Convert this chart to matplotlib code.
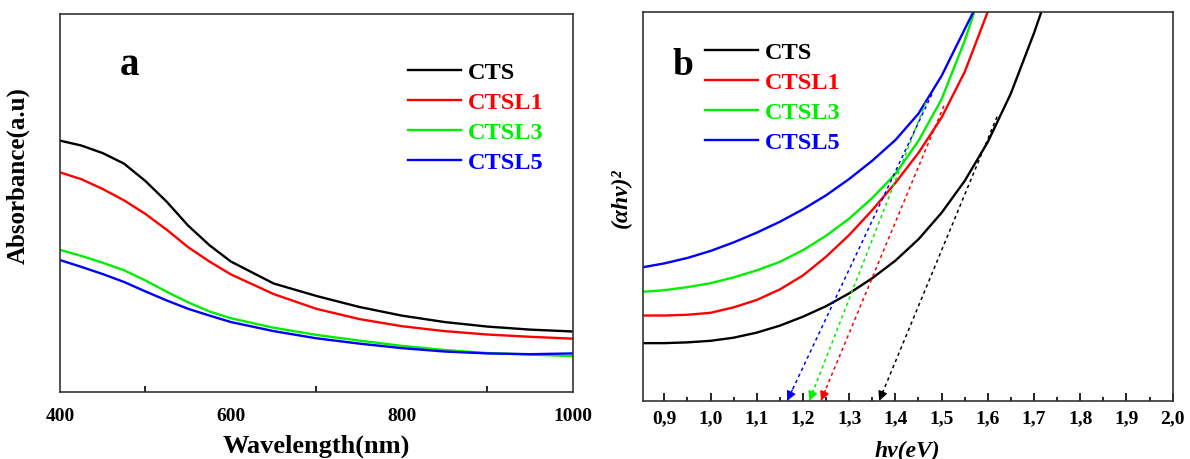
import matplotlib
matplotlib.use("Agg")
from matplotlib import pyplot as plt
from matplotlib.ticker import MultipleLocator, FuncFormatter

# panel a: absorbance spectra (arbitrary units)
wavelength = [400, 425, 450, 475, 500, 525, 550, 575, 600, 650, 700, 750, 800, 850, 900, 950, 1000]
abs_cts = [0.665, 0.652, 0.632, 0.604, 0.558, 0.503, 0.440, 0.388, 0.345, 0.287, 0.254, 0.225, 0.202, 0.185, 0.173, 0.165, 0.160]
abs_ctsl1 = [0.581, 0.563, 0.537, 0.507, 0.471, 0.429, 0.383, 0.345, 0.311, 0.259, 0.220, 0.193, 0.174, 0.161, 0.152, 0.146, 0.141]
abs_ctsl3 = [0.376, 0.360, 0.342, 0.322, 0.295, 0.265, 0.237, 0.213, 0.195, 0.170, 0.151, 0.136, 0.122, 0.111, 0.103, 0.099, 0.095]
abs_ctsl5 = [0.349, 0.331, 0.312, 0.291, 0.266, 0.242, 0.220, 0.202, 0.185, 0.161, 0.142, 0.128, 0.116, 0.107, 0.102, 0.100, 0.102]

# panel b: Tauc plot, each curve runs until it leaves the top of the frame
e_cts = [0.853, 0.90, 0.95, 1.00, 1.05, 1.10, 1.15, 1.20, 1.25, 1.30, 1.35, 1.40, 1.45, 1.50, 1.55, 1.60, 1.65, 1.70, 1.716]
tauc_cts = [0.148, 0.148, 0.150, 0.154, 0.162, 0.175, 0.193, 0.216, 0.243, 0.276, 0.315, 0.360, 0.415, 0.483, 0.565, 0.665, 0.790, 0.945, 1.0]
e_ctsl1 = [0.853, 0.90, 0.95, 1.00, 1.05, 1.10, 1.15, 1.20, 1.25, 1.30, 1.35, 1.40, 1.45, 1.50, 1.55, 1.60]
tauc_ctsl1 = [0.219, 0.219, 0.221, 0.226, 0.240, 0.259, 0.286, 0.322, 0.370, 0.426, 0.490, 0.560, 0.637, 0.728, 0.845, 1.0]
e_ctsl3 = [0.853, 0.90, 0.95, 1.00, 1.05, 1.10, 1.15, 1.20, 1.25, 1.30, 1.35, 1.40, 1.45, 1.50, 1.55, 1.571]
tauc_ctsl3 = [0.280, 0.284, 0.292, 0.302, 0.317, 0.335, 0.357, 0.387, 0.424, 0.468, 0.521, 0.583, 0.668, 0.775, 0.925, 1.0]
e_ctsl5 = [0.853, 0.90, 0.95, 1.00, 1.05, 1.10, 1.15, 1.20, 1.25, 1.30, 1.35, 1.40, 1.45, 1.50, 1.55, 1.569]
tauc_ctsl5 = [0.343, 0.353, 0.367, 0.385, 0.407, 0.432, 0.460, 0.492, 0.528, 0.570, 0.617, 0.670, 0.738, 0.835, 0.955, 1.0]

# tangent lines: upper point (E, y) and band gap intercept
tangent_top_e = [1.62, 1.505, 1.466, 1.479]
tangent_top_y = [0.73, 0.758, 0.767, 0.788]
band_gap = [1.365, 1.239, 1.214, 1.166]

labels = ["CTS", "CTSL1", "CTSL3", "CTSL5"]
colors = ["black", "#ff0000", "#00ee00", "#0000ff"]

serif = "Liberation Serif"
plt.rcParams["font.family"] = serif
plt.rcParams["font.weight"] = "bold"

fig = plt.figure(figsize=(11.9, 4.6), dpi=100)


def style_legend(ax, x0, y0):
    leg = ax.legend(loc="upper left", bbox_to_anchor=(x0, y0), bbox_transform=fig.transFigure,
                    frameon=False, prop={"family": serif, "weight": "bold", "size": 17.5},
                    handlelength=2.2, handletextpad=0.25, labelspacing=0.33,
                    borderpad=0, borderaxespad=0)
    for t, c in zip(leg.get_texts(), colors):
        t.set_color(c)


# ---- panel a
ax1 = fig.add_axes([0.0504, 0.1457, 0.431, 0.8217])
for y, c, lab in zip([abs_cts, abs_ctsl1, abs_ctsl3, abs_ctsl5], colors, labels):
    ax1.plot(wavelength, y, color=c, lw=1.7, label=lab)
ax1.set_xlim(400, 1000)
ax1.set_ylim(0, 1)
ax1.xaxis.set_major_locator(MultipleLocator(200))
ax1.xaxis.set_minor_locator(MultipleLocator(100))
ax1.tick_params(axis="x", which="both", direction="in", labelsize=14, width=1.2)
ax1.tick_params(axis="x", which="major", length=0, pad=11)
ax1.tick_params(axis="x", which="minor", length=4)
ax1.set_yticks([])
ax1.set_xlabel("Wavelength(nm)", fontsize=19, fontweight="bold", labelpad=7)
ax1.set_ylabel("Absorbance(a.u)", fontsize=18, fontweight="bold")
ax1.yaxis.set_label_coords(-0.058, 0.574)
style_legend(ax1, 408 / 1190, 1 - 62 / 460)
ax1.text(0.136, 0.84, "a", transform=ax1.transAxes, fontsize=28, fontweight="bold",
         ha="center", va="baseline")

# ---- panel b
ax2 = fig.add_axes([0.540, 0.1267, 0.4454, 0.8457])
energies = [e_cts, e_ctsl1, e_ctsl3, e_ctsl5]
tauc = [tauc_cts, tauc_ctsl1, tauc_ctsl3, tauc_ctsl5]
for xs, ys, c, lab in zip(energies, tauc, colors, labels):
    ax2.plot(xs, ys, color=c, lw=1.7, label=lab)
for c, e0, y0, eg in zip(colors, tangent_top_e, tangent_top_y, band_gap):
    ax2.plot([e0, eg], [y0, 0], color=c, lw=1.1, ls=(0, (2.2, 2.2)))
    # short solid arrow head at the intercept
    f = 0.035
    ax2.annotate("", xy=(eg, 0), xytext=(eg + f * (e0 - eg), f * y0),
                 arrowprops=dict(arrowstyle="-|>,head_length=0.55,head_width=0.28",
                                 color=c, lw=1.0, shrinkA=0, shrinkB=0))
ax2.set_xlim(0.853, 2.0)
ax2.set_ylim(0, 1)
ax2.xaxis.set_major_locator(MultipleLocator(0.1))
ax2.xaxis.set_minor_locator(MultipleLocator(0.05))
ax2.xaxis.set_major_formatter(FuncFormatter(lambda v, p: f"{v:.1f}".replace(".", ",")))
ax2.tick_params(axis="x", which="both", direction="in", labelsize=14, width=1.2)
ax2.tick_params(axis="x", which="major", length=6, pad=6)
ax2.tick_params(axis="x", which="minor", length=3)
ax2.set_yticks([])
ax2.set_xlabel("hν(eV)", fontsize=17, fontweight="bold", style="italic", labelpad=10)
ax2.set_ylabel("(αhν)²", fontsize=17, fontweight="bold", style="italic")
ax2.yaxis.set_label_coords(-0.02, 0.524)
style_legend(ax2, 705 / 1190, 1 - 42 / 460)
ax2.text(0.077, 0.84, "b", transform=ax2.transAxes, fontsize=27, fontweight="bold",
         ha="center", va="baseline")

for ax in (ax1, ax2):
    for s in ax.spines.values():
        s.set_linewidth(1.2)
        s.set_color("#333333")

fig.savefig("out.png", dpi=100)
